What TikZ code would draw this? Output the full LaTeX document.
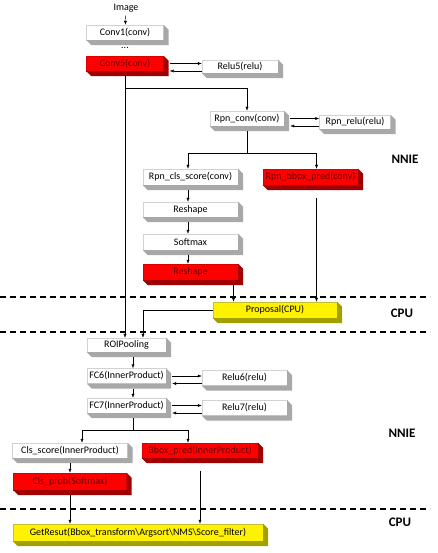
\documentclass[tikz,border=0pt]{standalone}
\usepackage{fontspec}
\setmainfont{Carlito}
\usetikzlibrary{arrows.meta}

\definecolor{sidewhite}{HTML}{A8A8A8}
\definecolor{sidered}{HTML}{A00000}
\definecolor{sideyellow}{HTML}{A0A000}

\begin{document}
\begin{tikzpicture}[x=1pt, y=-1pt, >={Latex[length=4pt,width=3pt]},
  box/.style={draw=gray!35, fill=white, inner sep=0pt, minimum height=15pt, font=\fontsize{10}{11}\selectfont},
  redbox/.style={box, draw=red!85!black, fill=red, text=red!40!black},
  yelbox/.style={box, draw=yellow!75!black, fill=yellow, text=black},
  sep/.style={dash pattern=on 6pt off 4pt, line width=1.2pt},
  tag/.style={font=\bfseries\fontsize{13}{15}\selectfont}]
  \useasboundingbox (0,0) rectangle (438,553);

  % backbone
  \node[font=\fontsize{10}{11}\selectfont] (image) at (126,8) {Image};
  \node[box, minimum width=77pt] (conv1) at (125,32.5) {Conv1(conv)};
  \node[font=\fontsize{10}{11}\selectfont] (dots) at (125,48) {...};
  \node[redbox, minimum width=77pt] (conv5) at (125,63.5) {Conv5(conv)};
  \node[box, minimum width=76pt, minimum height=13pt] (relu5) at (240,66.5) {Relu5(relu)};

  % RPN
  \node[box, minimum width=74pt] (rpnconv) at (247,118.5) {Rpn\_conv(conv)};
  \node[box, minimum width=71pt, minimum height=14pt] (rpnrelu) at (355,122) {Rpn\_relu(relu)};
  \node[box, minimum width=95pt, minimum height=16pt] (rpncls) at (190.5,177) {Rpn\_cls\_score(conv)};
  \node[redbox, minimum width=95pt, minimum height=16pt] (rpnbbox) at (310.5,177) {Rpn\_bbox\_pred(conv)};
  \node[box, minimum width=95pt] (reshapeA) at (190.5,209.5) {Reshape};
  \node[box, minimum width=95pt, minimum height=16pt] (softmax) at (190.5,242) {Softmax};
  \node[redbox, minimum width=95pt, minimum height=16pt] (reshapeB) at (190.5,272) {Reshape};
  \node[yelbox, minimum width=124pt, minimum height=16pt] (proposal) at (275,310) {Proposal(CPU)};

  % detection head
  \node[box, minimum width=79pt, minimum height=14pt] (roipool) at (126.5,345) {ROIPooling};
  \node[box, minimum width=79pt] (fc6) at (126.5,376) {FC6(InnerProduct)};
  \node[box, minimum width=85pt] (relu6) at (244.5,378) {Relu6(relu)};
  \node[box, minimum width=79pt] (fc7) at (126.5,405.5) {FC7(InnerProduct)};
  \node[box, minimum width=85pt] (relu7) at (244.5,408) {Relu7(relu)};
  \node[box, minimum width=115pt] (clsscore) at (70,450.5) {Cls\_score(InnerProduct)};
  \node[redbox, minimum width=116pt] (bboxpred) at (200,450.5) {Bbox\_pred(InnerProduct)};
  \node[redbox, minimum width=113pt, minimum height=17pt] (clsprob) at (70,481.5) {Cls\_prob(Softmax)};
  \node[yelbox, minimum width=250pt, minimum height=17pt] (getres) at (138,532.5) {GetResut(Bbox\_transform\textbackslash Argsort\textbackslash NMS\textbackslash Score\_filter)};

  % 3d sides
  \foreach \n/\c in {conv1/sidewhite, conv5/sidered, relu5/sidewhite, rpnconv/sidewhite,
      rpnrelu/sidewhite, rpncls/sidewhite, rpnbbox/sidered, reshapeA/sidewhite,
      softmax/sidewhite, reshapeB/sidered, proposal/sideyellow, roipool/sidewhite,
      fc6/sidewhite, relu6/sidewhite, fc7/sidewhite, relu7/sidewhite,
      clsscore/sidewhite, bboxpred/sidered, clsprob/sidered, getres/sideyellow} {
      \fill[\c] (\n.north east) -- ++(5,5) -- ([shift={(5,5)}]\n.south east)
        -- ([shift={(5,5)}]\n.south west) -- (\n.south west) -- (\n.south east) -- cycle;
    }

  % layer tags
  \node[tag] (nnieA) at (405,159) {NNIE};
  \node[tag] (cpuA) at (402,313) {CPU};
  \node[tag] (nnieB) at (402,433) {NNIE};
  \node[tag] (cpuB) at (400,522) {CPU};
  \foreach \y in {297,332,509} {
      \draw[sep] (0,\y) -- (430,\y);
    }

  % relu loops
  \foreach \l/\r in {conv5/relu5, rpnconv/rpnrelu, fc6/relu6, fc7/relu7} {
      \path ([shift={(6,0)}]\l.east) coordinate (p) ([shift={(6,7.5)}]\l.east) coordinate (q);
      \draw[->] (p) -- (p -| \r.west);
      \draw[<-] (q) -- (q -| \r.west);
    }

  % connectors
  \draw[->] (image) -- (conv1);
  \draw[->] ([yshift=-5pt]conv5.south) -- (conv5.south |- roipool.north);
  \coordinate (forkA) at ([yshift=-17pt]conv5.south);
  \draw[->] (forkA) -| (rpnconv.north);
  \coordinate (forkB) at ([yshift=-27pt]rpnconv.south);
  \draw ([yshift=-5pt]rpnconv.south) -- (forkB);
  \draw[->] (forkB) -| ([xshift=-2.5pt]rpncls.north);
  \draw[->] (forkB) -| ([xshift=6pt]rpnbbox.north);
  \draw[->] ([shift={(-2.5,5)}]rpncls.south) -- ([xshift=-2.5pt]reshapeA.north);
  \draw[->] ([shift={(-2.5,5)}]reshapeA.south) -- ([xshift=-2.5pt]softmax.north);
  \draw[->] ([shift={(-2.5,5)}]softmax.south) -- ([xshift=-2.5pt]reshapeB.north);
  \coordinate (rsB) at ([shift={(43,5)}]reshapeB.south);
  \draw[->] (rsB) -- (rsB |- proposal.north);
  \coordinate (bbA) at ([shift={(6,13)}]rpnbbox.south);
  \draw[->] (bbA) -- (bbA |- proposal.north);
  \draw[->] (proposal.west) -| ([xshift=16.5pt]roipool.north);

  \draw[->] ([shift={(6.5,5)}]roipool.south) -- ([xshift=6.5pt]fc6.north);
  \draw[->] ([shift={(6.5,5)}]fc6.south) -- ([xshift=6.5pt]fc7.north);
  \coordinate (forkC) at ([shift={(6.5,17)}]fc7.south);
  \draw ([shift={(6.5,5)}]fc7.south) -- (forkC);
  \draw[->] (forkC) -| ([xshift=12pt]clsscore.north);
  \draw[->] (forkC) -| ([xshift=-12pt]bboxpred.north);
  \draw[->] ([yshift=-5pt]clsscore.south) -- (clsprob.north);
  \draw[->] ([yshift=-5pt]clsprob.south) -- (clsprob.south |- getres.north);
  \draw[->] ([yshift=-13pt]bboxpred.south) -- (bboxpred.south |- getres.north);
\end{tikzpicture}
\end{document}
